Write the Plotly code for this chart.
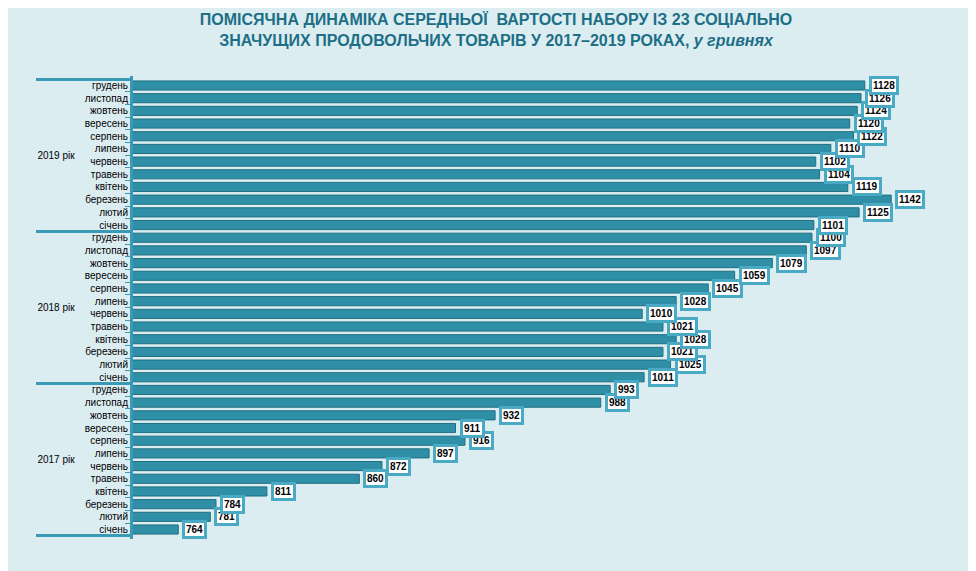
import plotly.graph_objects as go

months = ['січень', 'лютий', 'березень', 'квітень', 'травень', 'червень',
          'липень', 'серпень', 'вересень', 'жовтень', 'листопад', 'грудень']
years = ['2017 рік', '2018 рік', '2019 рік']

values_2017 = [764, 781, 784, 811, 860, 872, 897, 916, 911, 932, 988, 993]
values_2018 = [1011, 1025, 1021, 1028, 1021, 1010, 1028, 1045, 1059, 1079, 1097, 1100]
values_2019 = [1101, 1125, 1142, 1119, 1104, 1102, 1110, 1122, 1120, 1124, 1126, 1128]

y_year, y_month, x_vals = [], [], []
for yr, vals in zip(years, [values_2017, values_2018, values_2019]):
    for m, v in zip(months, vals):
        y_year.append(yr)
        y_month.append(m)
        x_vals.append(v)

fig = go.Figure(go.Bar(
    x=x_vals, y=[y_year, y_month], orientation='h',
    marker=dict(color='#2f8fa6', line=dict(color='#1f6f80', width=1)),
    width=0.72,
))

# value boxes
for yr, m, v in zip(y_year, y_month, x_vals):
    fig.add_annotation(x=v, y=[yr, m], text='<b>%d</b>' % v, showarrow=False,
                       xanchor='left', xshift=4, bgcolor='white',
                       bordercolor='#4aaac4', borderwidth=3, borderpad=1,
                       font=dict(family='Liberation Sans', size=10, color='black'))

fig.update_layout(
    width=976, height=571,
    paper_bgcolor='#dcedf2', plot_bgcolor='#dcedf2',
    title=dict(text='<b>ПОМІСЯЧНА ДИНАМІКА СЕРЕДНЬОЇ  ВАРТОСТІ НАБОРУ ІЗ 23 СОЦІАЛЬНО<br>'
                    'ЗНАЧУЩИХ ПРОДОВОЛЬЧИХ ТОВАРІВ У 2017–2019 РОКАХ, <i>у гривнях</i></b>',
               x=0.5, y=0.97, font=dict(family='Liberation Sans', size=16, color='#1d6f86')),
    margin=dict(l=125, r=40, t=68, b=40),
    showlegend=False, bargap=0.2,
    xaxis=dict(range=[740, 1170], visible=False),
    yaxis=dict(showgrid=False, showline=True, linecolor='#3a9ab5', linewidth=3,
               ticks='outside', tickcolor='#3a9ab5', dividercolor='#3a9ab5', dividerwidth=3,
               tickfont=dict(family='Liberation Sans', size=10, color='black')),
)

fig.write_html('out.html')
